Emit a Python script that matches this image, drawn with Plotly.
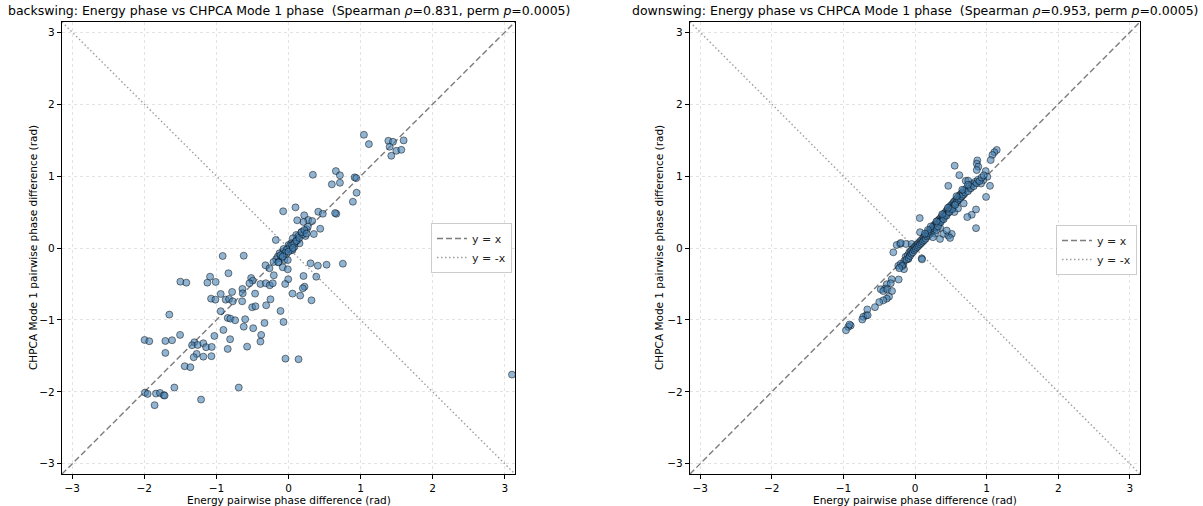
import math
import plotly.graph_objects as go

# ---------------- data ----------------
back_x = [1.046, 1.115, 1.385, 1.449, 1.597, 1.403, 1.496, 1.565, 1.426, 0.338, 0.657, 0.713, 0.601, 0.713,
          0.917, 0.940, 0.944, 0.893, -0.074, 0.097, 0.663, 0.646, 0.413, 0.476, 0.218, 0.274, 0.121, 0.208,
          0.329, 0.440, 0.351, 0.236, 0.254, 0.268, -0.176,
          0.107, 0.060, 0.129, 0.038, 0.083, 0.014, -0.032, -0.079, -0.125, -0.149, -0.101, -0.171, -0.056,
          -0.010, 0.038, 0.153, 0.097, 0.139, 0.181, 0.000, -0.028, -0.069, 0.056, -0.139, -0.208,
          0.02, 0.05, -0.02, 0.08, 0.11, -0.05, -0.11, 0.15, 0.20, 0.18, 0.22, 0.25, -0.08, -0.14, 0.00, 0.06,
          -0.913, -0.621, -0.319, -0.264, -0.204, -0.079, -0.010, 0.306, 0.407, 0.528, 0.754, -0.833, -0.518,
          -0.004, 0.208, 0.385,
          -1.500, -1.417, -1.125, -1.010, -1.088, -0.496, -0.542, -0.389, -0.315, -0.260, -0.218, -0.046,
          0.222, 0.199, -0.940, -0.782, -0.639, -0.463, -0.635, -1.074, -1.014, -0.871, -0.824, -0.773,
          -0.643, -0.504, -0.458, -0.310, -0.250, -0.111, -0.069, 0.056, 0.162, 0.319, -0.333, -0.601,
          -0.621, -0.490, -0.843, -0.806, -0.740, -0.903, -1.028, -0.810, -0.843, -0.574, -0.379, -0.389,
          -1.996, -1.931, -1.708, -1.615, -1.504, -1.708, -1.306, -1.338, -1.260, -1.181, -1.143, -1.065,
          -1.274, -1.315, -1.181, -1.069, -1.440, -1.361, -0.042, 0.139, -1.990, -1.954, -1.838, -1.782,
          -1.732, -1.718, -1.583, -1.857, -1.213, -0.690, 3.100, -0.940, -1.653]
back_y = [1.574, 1.444, 1.490, 1.476, 1.496, 1.407, 1.351, 1.365, 1.282, 1.018, 1.069, 1.010, 0.885, 0.907,
          0.982, 0.972, 0.768, 0.643, 0.510, 0.565, 0.476, 0.486, 0.504, 0.476, 0.454, 0.389, 0.385, 0.361,
          0.375, 0.268, 0.194, 0.167, 0.260, 0.296, 0.111,
          0.181, 0.135, 0.111, 0.065, 0.018, -0.004, -0.028, -0.051, -0.074, -0.121, -0.143, -0.157, -0.167,
          -0.167, -0.028, 0.065, 0.088, 0.167, 0.222, 0.042, -0.083, -0.014, -0.028, -0.194, -0.194,
          0.03, 0.04, -0.02, 0.06, 0.10, -0.07, -0.10, 0.14, 0.19, 0.22, 0.25, 0.20, -0.12, -0.20, -0.05, 0.00,
          -0.111, -0.107, -0.240, -0.282, -0.379, -0.268, -0.296, -0.213, -0.246, -0.232, -0.218, -0.351,
          -0.417, -0.435, -0.389, -0.399,
          -0.468, -0.482, -0.482, -0.472, -0.399, -0.454, -0.490, -0.500, -0.490, -0.518, -0.490, -0.500,
          -0.538, -0.560, -0.639, -0.611, -0.569, -0.634, -0.630, -0.704, -0.718, -0.718, -0.708, -0.741,
          -0.741, -0.824, -0.810, -0.796, -0.713, -0.875, -1.028, -0.634, -0.662, -0.727, -1.042, -0.990,
          -1.093, -1.115, -0.972, -0.982, -1.004, -1.139, -1.222, -1.268, -1.403, -1.371, -1.208, -1.301,
          -1.278, -1.296, -1.292, -1.282, -1.208, -1.458, -1.310, -1.351, -1.347, -1.324, -1.379, -1.375,
          -1.472, -1.518, -1.510, -1.504, -1.643, -1.657, -1.538, -1.546, -2.010, -2.028, -2.024, -2.014,
          -2.046, -2.051, -1.940, -2.185, -2.107, -1.940, -1.760, -0.879, -0.926]

down_x = [1.141, 1.108, 1.080, 1.057, 0.870, 0.862, 0.884, 0.862, 0.554, 0.619, 0.708, 0.744, 0.987, 1.010,
          0.954, 0.922, 0.465, 1.047, 0.992, 0.852, 0.792, 0.730, 0.852, 0.066, 0.070, 0.349, 0.395, 0.465,
          0.513, 0.443, 0.489, -0.209, -0.126, -0.256, -0.200, -0.046, -0.303, 0.094, 0.098, -0.233, -0.177,
          -0.094, -0.154, -0.163,
          -0.228, -0.325, -0.395, -0.339, -0.419, -0.479, -0.443, -0.387, -0.321, -0.363, -0.395, -0.443,
          -0.499, -0.559, -0.666, -0.684, -0.722, -0.736, -0.661, -0.898, -0.932, -0.964, -0.915,
          -0.15, -0.13, -0.12, -0.10, -0.09, -0.08, -0.07, -0.06, -0.05, -0.04, -0.03, -0.02, -0.01, 0.00,
          0.01, 0.02, 0.03, 0.04, 0.05, 0.06, 0.07, 0.08, 0.09, 0.10, 0.11, 0.12, 0.13, 0.14, 0.15, 0.16,
          0.17, 0.18, 0.19, 0.20, 0.21, 0.22, 0.23, 0.24, 0.25, 0.26, 0.27, 0.28, 0.29, 0.30, 0.31, 0.32,
          0.33, 0.34, 0.35, 0.36, 0.37, 0.38, 0.39, 0.40, 0.41, 0.42, 0.43, 0.44, 0.45, 0.46, 0.47, 0.48,
          0.49, 0.50, 0.51, 0.52, 0.53, 0.54, 0.55, 0.56, 0.57, 0.58, 0.59, 0.60, 0.61, 0.62, 0.63, 0.64,
          0.65, 0.66, 0.67, 0.68, 0.70, 0.72, 0.74, 0.76, 0.78, 0.80, 0.82, 0.84, 0.86, 0.88, 0.90, 0.93,
          0.96,
          0.28, 0.35, 0.25, 0.55, 0.60, 0.68, 0.30, 0.32, 0.36, 0.40, 0.44, 0.48, 0.52, 0.56, 0.30, 0.38,
          0.46, 0.58, 0.66, 0.74, 0.22, 0.18, 0.14, -0.20, -0.18, -0.22]
down_y = [1.363, 1.331, 1.293, 1.223, 1.218, 1.172, 1.130, 1.083, 1.144, 1.013, 0.934, 0.934, 1.069, 0.990,
          0.943, 0.896, 0.864, 0.864, 0.710, 0.536, 0.462, 0.430, 0.276, 0.416, 0.220, 0.126, 0.196, 0.172,
          0.196, 0.242, 0.140, 0.056, 0.056, 0.042, 0.070, 0.056, -0.060, -0.144, -0.158, -0.248, -0.238,
          -0.154, -0.294, -0.228,
          -0.438, -0.434, -0.504, -0.490, -0.564, -0.574, -0.598, -0.574, -0.598, -0.676, -0.704, -0.728,
          -0.752, -0.822, -0.854, -0.938, -0.957, -0.994, -0.934, -1.078, -1.097, -1.144, -1.064,
          -0.18, -0.12, -0.16, -0.10, -0.14, -0.06, -0.11, -0.04, -0.08, -0.02, -0.06, 0.00, -0.03, 0.02,
          -0.01, 0.04, 0.01, 0.06, 0.03, 0.08, 0.05, 0.10, 0.07, 0.12, 0.09, 0.15, 0.11, 0.17, 0.13, 0.19,
          0.16, 0.21, 0.18, 0.24, 0.20, 0.26, 0.22, 0.28, 0.25, 0.31, 0.27, 0.33, 0.30, 0.35, 0.32, 0.38,
          0.34, 0.40, 0.37, 0.42, 0.39, 0.45, 0.41, 0.47, 0.44, 0.49, 0.46, 0.52, 0.48, 0.54, 0.50, 0.57,
          0.53, 0.59, 0.55, 0.61, 0.57, 0.64, 0.60, 0.66, 0.62, 0.68, 0.65, 0.71, 0.67, 0.73, 0.69, 0.75,
          0.72, 0.77, 0.74, 0.80, 0.77, 0.83, 0.79, 0.86, 0.83, 0.89, 0.86, 0.92, 0.90, 0.95, 0.93, 0.98,
          1.01,
          0.20, 0.28, 0.15, 0.50, 0.55, 0.62, 0.25, 0.30, 0.36, 0.40, 0.45, 0.50, 0.54, 0.60, 0.37, 0.47,
          0.56, 0.72, 0.81, 0.88, 0.30, 0.25, 0.20, -0.22, -0.25, -0.28]

titles = ["backswing: Energy phase vs CHPCA Mode 1 phase  (Spearman <i>ρ</i>=0.831, perm <i>p</i>=0.0005)",
          "downswing: Energy phase vs CHPCA Mode 1 phase  (Spearman <i>ρ</i>=0.953, perm <i>p</i>=0.0005)"]
x_label = "Energy pairwise phase difference (rad)"
y_label = "CHPCA Mode 1 pairwise phase difference (rad)"
tick_vals = [-3, -2, -1, 0, 1, 2, 3]
tick_text = ["\u22123", "\u22122", "\u22121", "0", "1", "2", "3"]
ref_x = [-math.pi, math.pi]

# ---------------- figure ----------------
W, H = 1203, 506
FONT = "DejaVu Sans, Liberation Sans, sans-serif"
fig = go.Figure()

x_domains = [[62 / W, 515 / W], [690 / W, 1140 / W]]
y_domain = [(H - 474) / H, (H - 22) / H]
datasets = [(back_x, back_y), (down_x, down_y)]
legends = ["legend", "legend2"]

for i, (xs, ys) in enumerate(datasets):
    xa = "x" if i == 0 else "x2"
    ya = "y" if i == 0 else "y2"
    fig.add_trace(go.Scatter(
        x=ref_x, y=ref_x, mode="lines", name="y = x", legend=legends[i],
        line=dict(color="rgba(110,110,110,0.9)", width=1.4, dash="6px,3px"),
        xaxis=xa, yaxis=ya, hoverinfo="skip"))
    fig.add_trace(go.Scatter(
        x=ref_x, y=[-v for v in ref_x], mode="lines", name="y = -x", legend=legends[i],
        line=dict(color="rgba(140,140,140,0.85)", width=1.4, dash="1.5px,2.5px"),
        xaxis=xa, yaxis=ya, hoverinfo="skip"))
    fig.add_trace(go.Scatter(
        x=xs, y=ys, mode="markers", showlegend=False,
        marker=dict(size=7, color="rgba(70,130,180,0.6)",
                    line=dict(color="rgba(0,0,0,0.6)", width=0.8)),
        xaxis=xa, yaxis=ya))

axis_common = dict(
    range=[-math.pi, math.pi], tickvals=tick_vals, ticktext=tick_text,
    showgrid=True, gridcolor="rgba(0,0,0,0.11)", griddash="3px,3px", gridwidth=1,
    zeroline=False, showline=True, linecolor="black", linewidth=1.2, mirror=True,
    ticks="outside", ticklen=4, tickwidth=1, tickcolor="black",
    tickfont=dict(family=FONT, size=10.5, color="black"),
)
fig.update_layout(
    xaxis=dict(domain=x_domains[0], anchor="y", **axis_common),
    yaxis=dict(domain=y_domain, anchor="x", **axis_common),
    xaxis2=dict(domain=x_domains[1], anchor="y2", **axis_common),
    yaxis2=dict(domain=y_domain, anchor="x2", **axis_common),
)

leg_common = dict(bgcolor="white", bordercolor="rgba(0,0,0,0.2)", borderwidth=1,
                  font=dict(family=FONT, size=11, color="#222"), xanchor="right", yanchor="middle",
                  itemwidth=30, tracegroupgap=0)
fig.update_layout(
    legend=dict(x=512 / W, y=(H - 248) / H, **leg_common),
    legend2=dict(x=1137 / W, y=(H - 250) / H, **leg_common),
)

ann = []
centers = [(62 + 515) / 2 / W, (690 + 1140) / 2 / W]
ylab_x = [33 / W, 659 / W]
for i in range(2):
    ann.append(dict(text=titles[i], x=centers[i], y=(H - 11) / H, xref="paper", yref="paper",
                    xanchor="center", yanchor="middle", showarrow=False,
                    font=dict(family=FONT, size=12.5, color="black")))
    ann.append(dict(text=x_label, x=centers[i], y=(H - 499.5) / H, xref="paper", yref="paper",
                    xanchor="center", yanchor="middle", showarrow=False,
                    font=dict(family=FONT, size=10.5, color="black")))
    ann.append(dict(text=y_label, x=ylab_x[i], y=(H - 248) / H, xref="paper", yref="paper",
                    xanchor="center", yanchor="middle", showarrow=False, textangle=-90,
                    font=dict(family=FONT, size=10.5, color="black")))

fig.update_layout(
    width=W, height=H, margin=dict(l=0, r=0, t=0, b=0),
    paper_bgcolor="white", plot_bgcolor="white",
    annotations=ann, font=dict(family=FONT),
)

fig.write_html("out.html", config={"displayModeBar": False},
               post_script="document.body.style.margin='0px';document.body.style.overflow='hidden';")
